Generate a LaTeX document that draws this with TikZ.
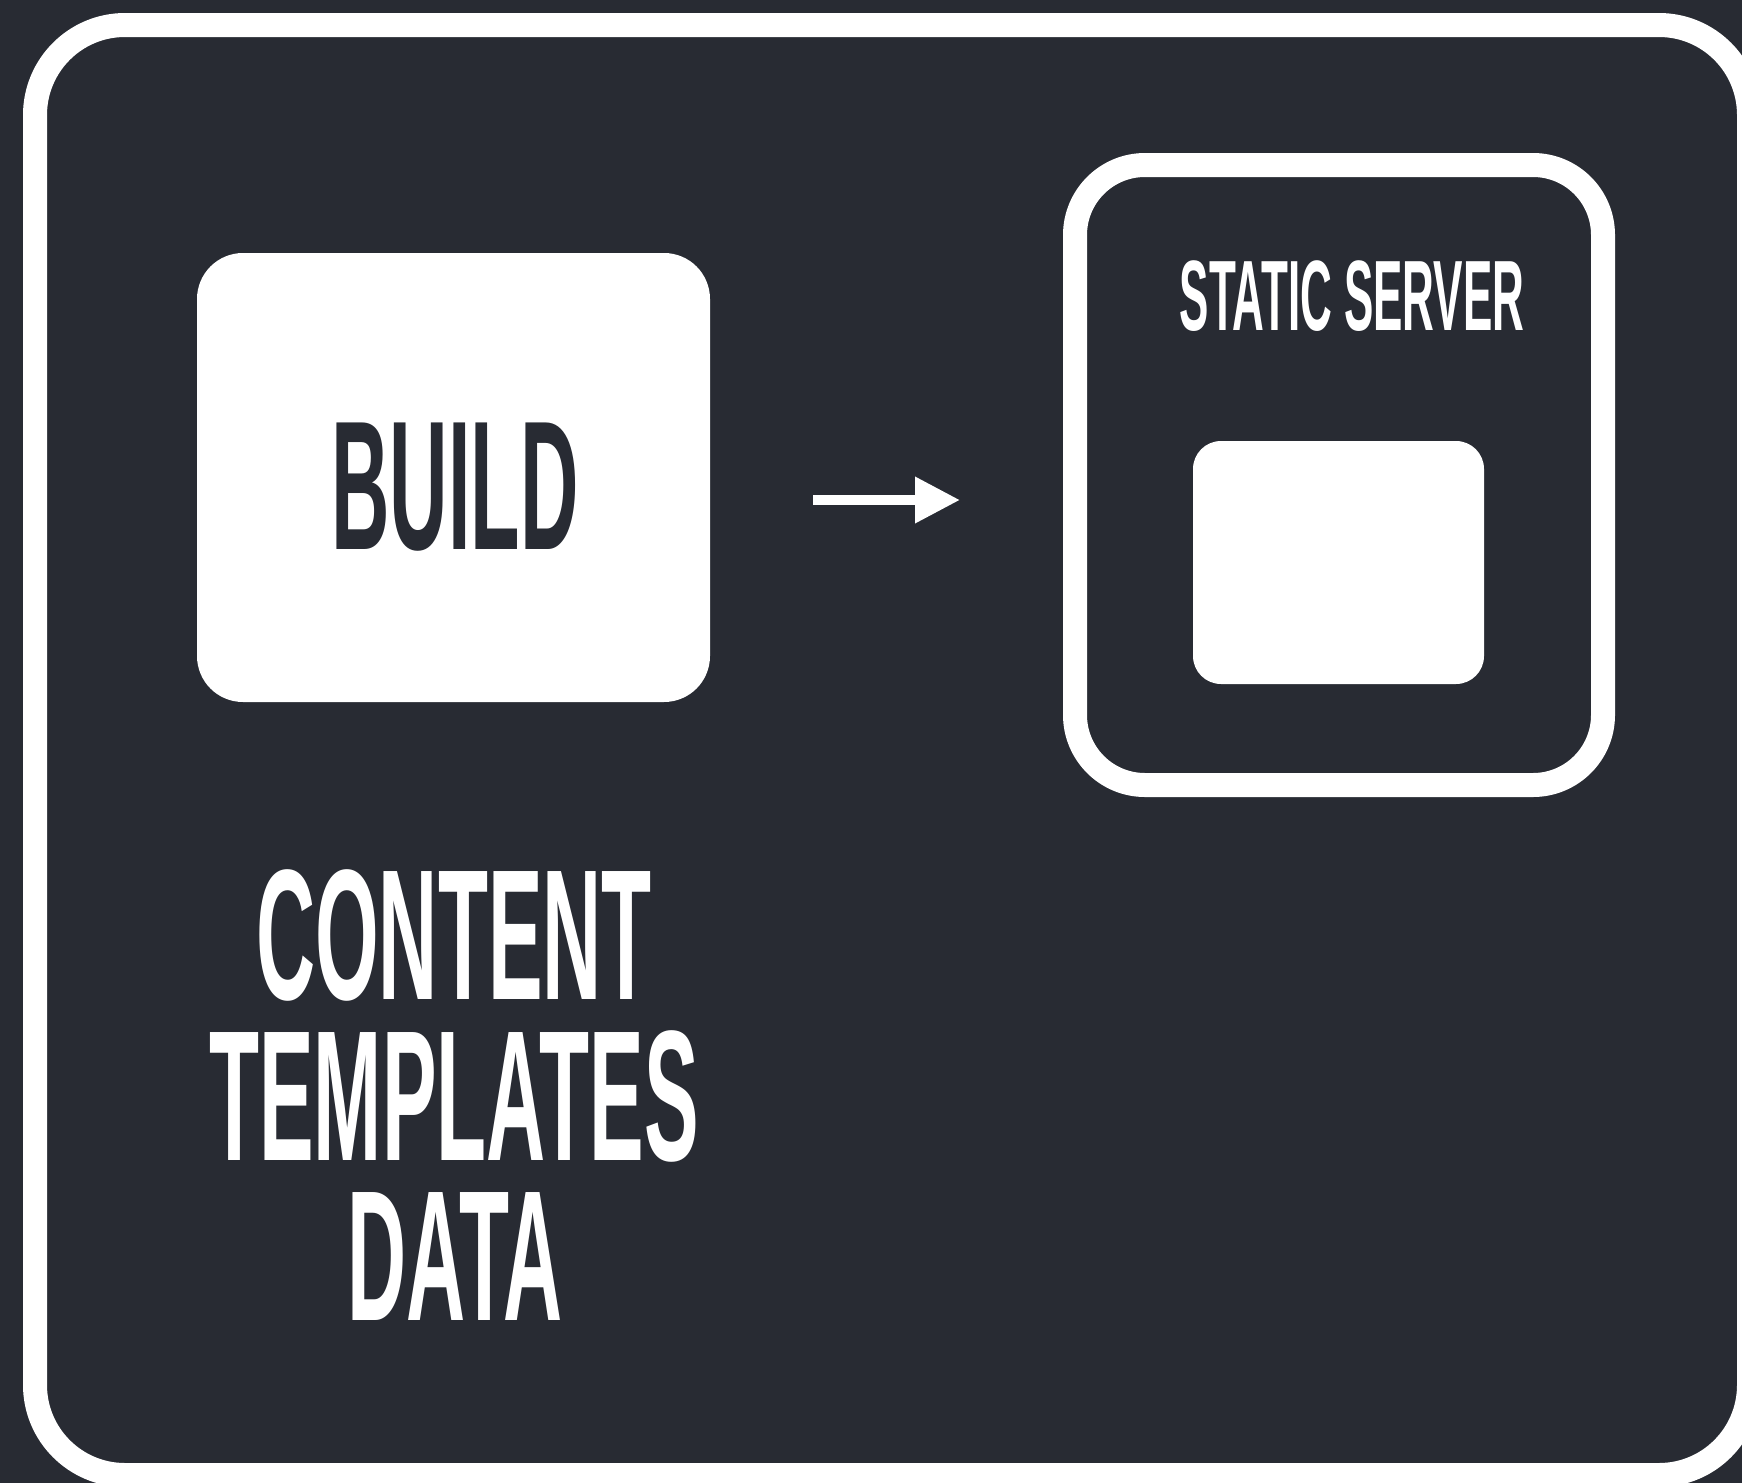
\documentclass[tikz,border=0pt]{standalone}
\usepackage{fontspec}
\newfontfamily\cond[FakeStretch=0.44]{Liberation Sans}
\usetikzlibrary{arrows.meta}
\definecolor{bg}{HTML}{282B33}
\tikzset{
  frame/.style={draw=white, line width=24pt, rounded corners=#1},
  whitebox/.style={fill=white, rounded corners=#1},
  bigtext/.style={text=white, anchor=base, inner sep=0pt, text depth=0pt, text height=0.72em, font=\cond\bfseries\fontsize{186pt}{186pt}\selectfont},
}
\begin{document}
\begin{tikzpicture}[x=1pt,y=-1pt]
\useasboundingbox[fill=bg] (0,0) rectangle (1742,1483);
% outer frame
\draw[frame=90pt] (35,25) rectangle (1749,1475);
% build box
\fill[whitebox=46pt] (197,253) rectangle (710,702);
\node[bigtext, text=bg, font=\cond\bfseries\fontsize{184pt}{184pt}\selectfont] (build) at (455,549) {BUILD};
% static server frame
\draw[frame=70pt] (1075,165) rectangle (1603,785);
\node[bigtext, font=\cond\bfseries\fontsize{100pt}{100pt}\selectfont] (server) at (1352,330) {STATIC SERVER};
\fill[whitebox=28pt] (1193,441) rectangle (1484,684);
% arrow
\coordinate (a1) at (813,500);
\coordinate (a2) at (960,500);
\draw[white, line width=10pt, -{Triangle[length=45pt,width=44pt]}] (a1) -- (a2);
% inputs
\node[bigtext] (content) at (454,999) {CONTENT};
\node[bigtext] (templates) at (454,1160) {TEMPLATES};
\node[bigtext] (data) at (455,1320) {DATA};
\end{tikzpicture}
\end{document}
